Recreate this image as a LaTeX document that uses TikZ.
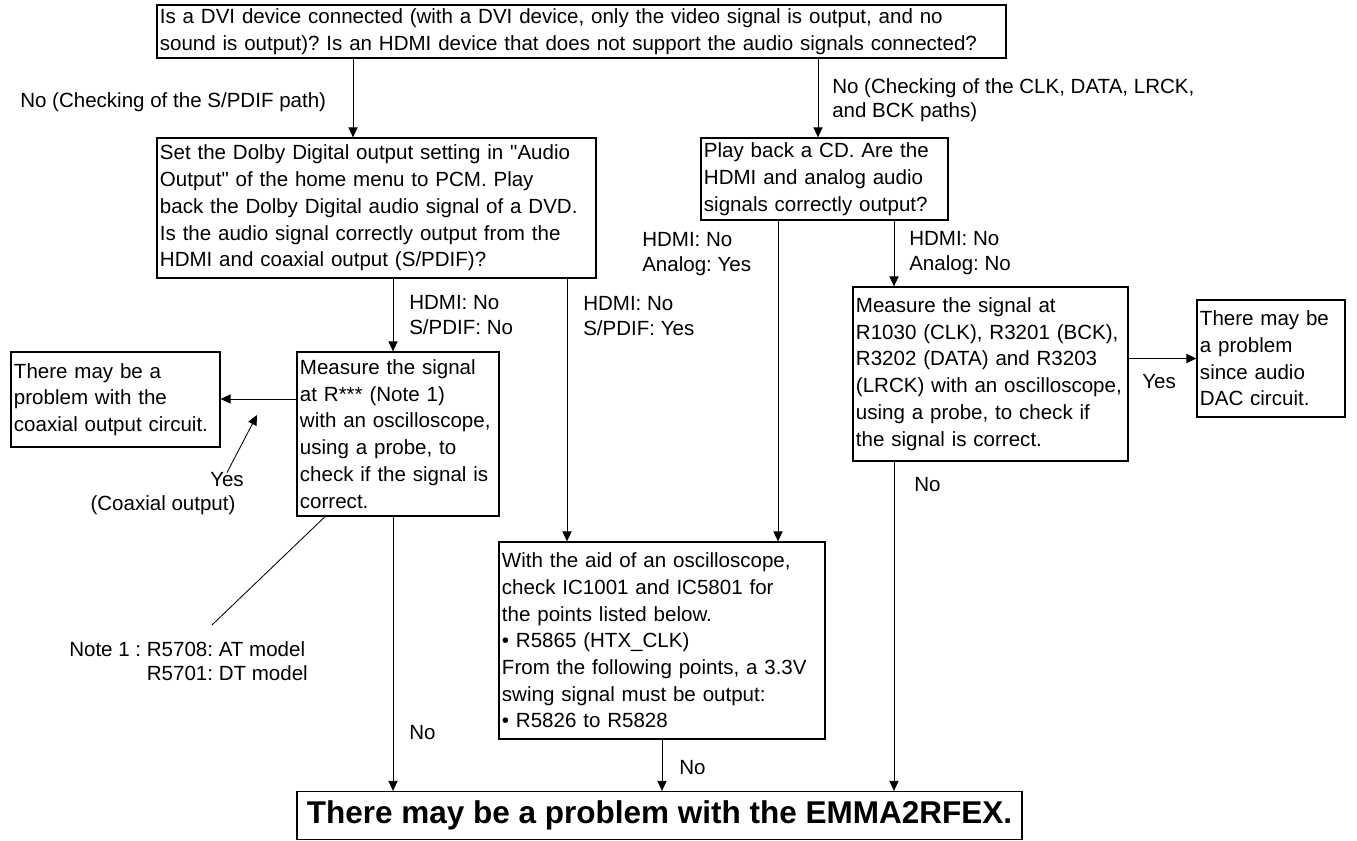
\documentclass[tikz,border=0pt]{standalone}
\usepackage{fontspec}
\setmainfont{Liberation Sans}[Ligatures=TeXOff]
\usetikzlibrary{arrows.meta,positioning,calc}
\newcommand\flowfont{\fontsize{14.6pt}{19pt}\selectfont\frenchspacing\hyphenpenalty=10000}
\newcommand\labfont{\fontsize{14.6pt}{17.2pt}\selectfont\frenchspacing}
\newcommand\bigfont{\fontsize{22.4pt}{26pt}\selectfont\bfseries}

\begin{document}
\begin{tikzpicture}[x=0.025cm,y=-0.025cm,
  box/.style={draw,line width=0.9pt,align=left,inner xsep=0.075cm,inner ysep=0pt,
    font=\flowfont},
  lab/.style={align=left,inner sep=0pt,font=\labfont,anchor=west},
  arr/.style={-{Triangle[length=2.5mm,width=2.3mm]},line width=0.6pt}
]
\useasboundingbox (0,0) rectangle (1357,841);

\node[box,text width=21.075cm,minimum width=21.225cm,minimum height=1.325cm] (q) at (581.5,31.5)
  {Is a DVI device connected (with a DVI device, only the video signal is output, and no\\
   sound is output)? Is an HDMI device that does not support the audio signals connected?};
\node[box,text width=10.825cm,minimum width=10.975cm,minimum height=3.5cm] (dolby) at (376.5,208)
  {Set the Dolby Digital output setting in "Audio\\
   Output" of the home menu to PCM. Play\\
   back the Dolby Digital audio signal of a DVD.\\
   Is the audio signal correctly output from the\\
   HDMI and coaxial output (S/PDIF)?};
\node[box,text width=6.025cm,minimum width=6.175cm,minimum height=2.05cm] (cd) at (824.5,179)
  {Play back a CD. Are the\\HDMI and analog audio\\signals correctly output?};
\node[box,text width=4.9cm,minimum width=5.05cm,minimum height=4.1cm] (meas) at (398,434)
  {Measure the signal\\at R*** (Note 1)\\with an oscilloscope,\\using a probe, to\\check if the signal is\\correct.};
\node[box,text width=5.075cm,minimum width=5.225cm,minimum height=2.375cm] (coax) at (115.5,399.5)
  {There may be a\\problem with the\\coaxial output circuit.};
\node[box,text width=8cm,minimum width=8.15cm,minimum height=4.925cm] (ic) at (662,640.5)
  {With the aid of an oscilloscope,\\
   check IC1001 and IC5801 for\\
   the points listed below.\\
   • R5865 (HTX\_CLK)\\
   From the following points, a 3.3V\\
   swing signal must be output:\\
   • R5826 to R5828};
\node[box,text width=6.725cm,minimum width=6.875cm,minimum height=4.35cm] (dacmeas) at (990.5,374)
  {Measure the signal at\\
   R1030 (CLK), R3201 (BCK),\\
   R3202 (DATA) and R3203\\
   (LRCK) with an oscilloscope,\\
   using a probe, to check if\\
   the signal is correct.};
\node[box,text width=3.55cm,minimum width=3.7cm,minimum height=2.925cm] (dac) at (1271,358.5)
  {There may be\\a problem\\since audio\\DAC circuit.};
\node[box,align=center,font=\bigfont,minimum width=18.125cm,minimum height=1.2cm] (emma) at (659.5,815.5)
  {There may be a problem with the EMMA2RFEX.};

\node[lab] (lspdif) at (20,102) {No (Checking of the S/PDIF path)};
\node[lab] (lclk) at (832,100) {No (Checking of the CLK, DATA, LRCK,\\and BCK paths)};
\node[lab] (lsno) at (409,315) {HDMI: No\\S/PDIF: No};
\node[lab] (lsyes) at (583,316) {HDMI: No\\S/PDIF: Yes};
\node[lab] (layes) at (642,254) {HDMI: No\\Analog: Yes};
\node[lab] (lano) at (909,253) {HDMI: No\\Analog: No};
\node[lab,anchor=center] (lyes) at (227,480) {Yes};
\node[lab,anchor=center] (lcoaxout) at (163,505) {(Coaxial output)};
\node[lab] (lnote) at (69,661) {Note 1 : R5708: AT model\\\phantom{Note 1 : }R5701: DT model};
\node[lab] (lno1) at (409,733) {No};
\node[lab] (lno2) at (679,768) {No};
\node[lab] (lno3) at (914,485) {No};
\node[lab] (lyes2) at (1142,382) {Yes};

\foreach \a/\b/\x in {q/dolby/353,q/cd/818,dolby/meas/393,dolby/ic/567,cd/ic/778,
    cd/dacmeas/894,meas/emma/393,ic/emma/662,dacmeas/emma/894}
  \draw[arr] (\a.south -| \x,0) -- (\b.north -| \x,0);
\draw[arr] (meas.west |- 0,399) -- (coax.east |- 0,399);
\draw[arr] (dacmeas.east |- dac.west) -- (dac.west);
\coordinate (yestip) at (257,415);
\draw[arr] (lyes.north) -- (yestip);
\coordinate (noteend) at (212,625);
\draw[line width=0.6pt] (meas.south -| 325,0) -- (noteend);
\end{tikzpicture}
\end{document}
